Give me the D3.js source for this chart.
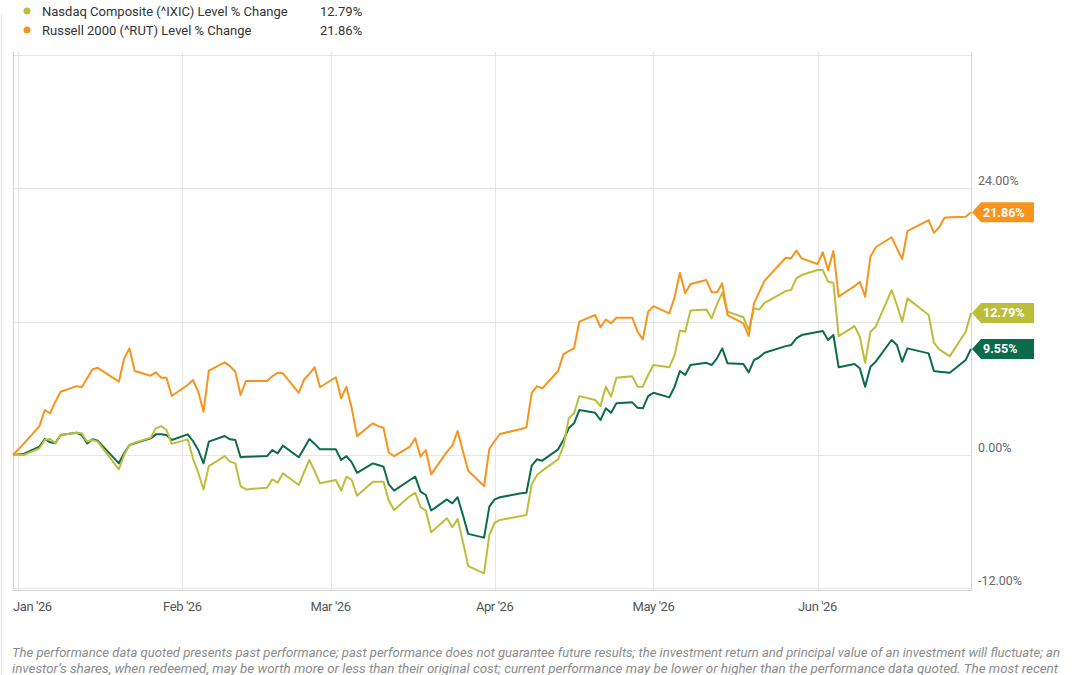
<!DOCTYPE html>
<html>
<head>
<meta charset="utf-8">
<script src="https://cdn.jsdelivr.net/npm/d3@7"></script>
<style>
  html, body { margin: 0; padding: 0; background: #fff; }
  svg { display: block; font-family: Roboto, "Noto Sans", sans-serif; }
</style>
</head>
<body>
<svg id="chart" width="1080" height="675"></svg>
<script>
// Trading days (Dec 31 2025 = base, 0%)
var dates = [
  "2025-12-31","2026-01-02","2026-01-05","2026-01-06","2026-01-07","2026-01-08","2026-01-09",
  "2026-01-12","2026-01-13","2026-01-14","2026-01-15","2026-01-16","2026-01-20","2026-01-21",
  "2026-01-22","2026-01-23","2026-01-26","2026-01-27","2026-01-28","2026-01-29","2026-01-30",
  "2026-02-02","2026-02-03","2026-02-04","2026-02-05","2026-02-06","2026-02-09","2026-02-10",
  "2026-02-11","2026-02-12","2026-02-13","2026-02-17","2026-02-18","2026-02-19","2026-02-20",
  "2026-02-23","2026-02-24","2026-02-25","2026-02-26","2026-02-27","2026-03-02","2026-03-03",
  "2026-03-04","2026-03-05","2026-03-06","2026-03-09","2026-03-10","2026-03-11","2026-03-12",
  "2026-03-13","2026-03-16","2026-03-17","2026-03-18","2026-03-19","2026-03-20","2026-03-23",
  "2026-03-24","2026-03-25","2026-03-26","2026-03-27","2026-03-30","2026-03-31","2026-04-01",
  "2026-04-02","2026-04-06","2026-04-07","2026-04-08","2026-04-09","2026-04-10","2026-04-13",
  "2026-04-14","2026-04-15","2026-04-16","2026-04-17","2026-04-20","2026-04-21","2026-04-22",
  "2026-04-23","2026-04-24","2026-04-27","2026-04-28","2026-04-29","2026-04-30","2026-05-01",
  "2026-05-04","2026-05-05","2026-05-06","2026-05-07","2026-05-08","2026-05-11","2026-05-12",
  "2026-05-13","2026-05-14","2026-05-15","2026-05-18","2026-05-19","2026-05-20","2026-05-21",
  "2026-05-22","2026-05-26","2026-05-27","2026-05-28","2026-05-29","2026-06-01","2026-06-02",
  "2026-06-03","2026-06-04","2026-06-05","2026-06-08","2026-06-09","2026-06-10","2026-06-11",
  "2026-06-12","2026-06-15","2026-06-16","2026-06-17","2026-06-18","2026-06-22","2026-06-23",
  "2026-06-24","2026-06-25","2026-06-26","2026-06-29","2026-06-30"
];

// Russell 2000 (^RUT) level % change
var rut = [
  0, 1.0, 2.6, 4.05, 3.75, 4.8, 5.7,
  6.2, 6.1, 6.9, 7.7, 7.85, 6.6, 8.7,
  9.6, 7.56, 7.14, 7.44, 6.96, 6.96, 5.31,
  6.3, 6.75, 5.7, 3.9, 7.59, 8.34, 8.0,
  7.5, 5.4, 6.66, 6.66, 7.1, 7.4, 7.35,
  5.6, 6.8, 7.3, 7.9, 6.1, 7.0, 5.1,
  6.15, 4.2, 1.7, 2.85, 2.6, 2.45, 0.2,
  -0.1, 0.75, 1.5, -0.15, 0.45, -1.74, 0.3,
  0.84, 2.16, 0.36, -1.41, -2.79, 0.54, 1.26,
  1.89, 2.34, 2.49, 5.6, 6.2, 6.0, 7.56,
  9.09, 9.36, 9.6, 12.0, 12.6, 11.5, 12.2,
  11.85, 12.36, 12.36, 11.1, 10.41, 12.9, 13.4,
  12.75, 14.2, 16.4, 14.55, 15.4, 15.75, 14.64,
  14.64, 15.45, 12.6, 11.85, 10.71, 13.65, 14.67,
  15.7, 17.76, 17.7, 18.4, 17.7, 17.2, 18.25,
  16.65, 18.36, 14.25, 15.2, 15.6, 14.25, 17.85,
  18.7, 19.6, 18.6, 17.64, 20.16, 21.15, 20.0,
  20.5, 21.36, 21.4, 21.45, 21.86
];

// Nasdaq Composite (^IXIC) level % change
var ixic = [
  0, 0.0, 0.6, 1.35, 1.44, 1.05, 1.8,
  2.0, 1.95, 1.2, 1.35, 1.2, -1.29, 0.0,
  0.9, 1.1, 1.56, 2.4, 2.6, 2.25, 1.0,
  1.41, -0.3, -1.6, -3.1, -1.0, -0.1, -0.6,
  -0.75, -2.8, -3.1, -2.94, -2.19, -2.5, -1.65,
  -2.7, -1.55, -0.45, -1.45, -2.55, -2.25, -3.2,
  -1.95, -2.25, -3.66, -2.4, -2.4, -2.4, -4.1,
  -4.95, -3.7, -3.4, -4.7, -5.0, -6.96, -5.7,
  -6.5, -5.76, -7.8, -10.0, -10.65, -7.2, -6.1,
  -5.85, -5.5, -5.4, -2.64, -1.8, -1.41, -0.39,
  0.81, 3.3, 3.75, 5.3, 4.95, 4.4, 6.15,
  5.25, 6.96, 7.1, 6.15, 6.15, 7.2, 8.1,
  7.9, 9.0, 11.2, 11.1, 13.0, 13.1, 12.3,
  13.56, 14.6, 12.9, 12.4, 11.25, 13.2, 13.1,
  13.7, 14.76, 14.85, 15.9, 16.2, 16.65, 16.65,
  15.6, 15.5, 10.7, 11.6, 10.65, 8.3, 11.1,
  11.55, 14.85, 13.5, 12.0, 14.1, 12.6, 10.1,
  9.5, 9.2, 8.9, 11.1, 12.79
];

// S&P 500 level % change (legend row cut off in the original)
var spx = [
  0, 0.1, 0.75, 1.44, 1.14, 1.05, 1.8,
  2.0, 1.8, 1.05, 1.41, 1.29, -0.75, 0.15,
  0.9, 1.05, 1.5, 1.86, 1.86, 1.8, 1.35,
  1.86, 1.26, 0.45, -0.75, 1.2, 1.71, 1.41,
  1.35, -0.2, -0.15, -0.1, 0.45, 0.15, 0.84,
  -0.2, 0.6, 1.44, 1.0, 0.51, 0.51, -0.45,
  -0.1, -0.66, -1.6, -0.75, -0.9, -1.05, -2.65,
  -3.2, -2.25, -1.95, -3.3, -3.6, -5.0, -4.0,
  -4.35, -3.8, -5.4, -7.1, -7.44, -4.65, -4.0,
  -3.8, -3.45, -3.4, -0.96, -0.39, -0.51, 0.51,
  1.35, 2.4, 2.85, 4.05, 3.8, 3.15, 4.2,
  3.8, 4.65, 4.74, 4.26, 4.2, 5.3, 5.6,
  5.19, 6.15, 7.56, 7.2, 8.1, 8.3, 8.1,
  8.7, 9.6, 8.25, 8.2, 7.44, 8.55, 8.8,
  9.2, 9.8, 9.9, 10.5, 10.8, 11.07, 11.16,
  10.35, 10.8, 7.9, 8.2, 7.8, 6.15, 7.95,
  8.4, 10.35, 9.9, 8.4, 9.6, 9.15, 7.56,
  7.5, 7.45, 7.4, 8.55, 9.55
];

var seriesNames = ["S&P 500 (^SPX) Level % Change", "Nasdaq Composite (^IXIC) Level % Change", "Russell 2000 (^RUT) Level % Change"];
var seriesColors = ["#0b6b4a", "#bcbe3b", "#f7941d"];
var yTicks = [-12, 0, 12, 24, 36];
var yTickLabels = [-12, 0, 24]; // 12% label hidden behind end tags
var monthTicks = ["2026-01-01", "2026-02-01", "2026-03-01", "2026-04-01", "2026-05-01", "2026-06-01"];

var parse = d3.timeParse("%Y-%m-%d");
var series = [spx, ixic, rut].map(function (vals, i) {
  return {
    name: seriesNames[i],
    color: seriesColors[i],
    values: vals.map(function (v, j) { return { date: parse(dates[j]), value: v }; })
  };
});

var svg = d3.select("#chart");

var plot = { left: 13, right: 971, top: 52, bottom: 590 };

var x = d3.scaleTime()
  .domain([parse(dates[0]), parse(dates[dates.length - 1])])
  .range([plot.left, plot.right]);

var y = d3.scaleLinear()
  .domain([-12, 24])
  .range([588.3, 188.4]);

// outer frame line on the left
svg.append("line")
  .attr("x1", 1.5).attr("x2", 1.5)
  .attr("y1", 14).attr("y2", 675)
  .attr("stroke", "#e3e3e3");

// horizontal gridlines
svg.append("g")
  .selectAll("line")
  .data(yTicks.filter(function (d) { return y(d) >= plot.top; }))
  .enter().append("line")
  .attr("x1", plot.left).attr("x2", plot.right)
  .attr("y1", function (d) { return Math.round(y(d)) + 0.5; })
  .attr("y2", function (d) { return Math.round(y(d)) + 0.5; })
  .attr("stroke", "#e6e6e6");

// vertical month gridlines
svg.append("g")
  .selectAll("line")
  .data(monthTicks)
  .enter().append("line")
  .attr("x1", function (d) { return Math.round(x(parse(d))) + 0.5; })
  .attr("x2", function (d) { return Math.round(x(parse(d))) + 0.5; })
  .attr("y1", plot.top).attr("y2", plot.bottom)
  .attr("stroke", "#e6e6e6");

// plot frame: left, right and bottom edges
svg.append("path")
  .attr("d", "M" + (plot.left + 0.5) + "," + plot.top + "V" + (plot.bottom + 0.5) +
             "H" + (plot.right + 0.5) + "V" + plot.top)
  .attr("fill", "none")
  .attr("stroke", "#d4d4d4");

// x axis labels
var monthFmt = d3.timeFormat("%b '%y");
svg.append("g")
  .selectAll("text")
  .data(monthTicks)
  .enter().append("text")
  .attr("x", function (d, i) { return i === 0 ? plot.left : x(parse(d)); })
  .attr("y", 611)
  .attr("text-anchor", function (d, i) { return i === 0 ? "start" : "middle"; })
  .style("font-size", "13px")
  .style("letter-spacing", "-0.4px")
  .style("fill", "#555")
  .text(function (d) { return monthFmt(parse(d)); });

// y axis labels (right side)
svg.append("g")
  .selectAll("text")
  .data(yTickLabels)
  .enter().append("text")
  .attr("x", 978)
  .attr("y", function (d) { return y(d) - 3; })
  .style("font-size", "12.5px")
  .style("fill", "#666")
  .text(function (d) { return d.toFixed(2) + "%"; });

// lines
var line = d3.line()
  .x(function (d) { return x(d.date); })
  .y(function (d) { return y(d.value); });

svg.append("g")
  .selectAll("path")
  .data(series)
  .enter().append("path")
  .attr("d", function (d) { return line(d.values); })
  .attr("fill", "none")
  .attr("stroke", function (d) { return d.color; })
  .attr("stroke-width", 2)
  .attr("stroke-linejoin", "round");

// end-of-line value tags
var tags = svg.append("g")
  .selectAll("g")
  .data(series)
  .enter().append("g")
  .attr("transform", function (d) {
    var last = d.values[d.values.length - 1];
    return "translate(" + plot.right + "," + y(last.value) + ")";
  });

tags.append("path")
  .attr("d", "M1,0L10,-10H63V10H10Z")
  .attr("fill", function (d) { return d.color; });

tags.append("text")
  .attr("x", 12)
  .attr("y", 4.5)
  .style("font-size", "12.5px")
  .style("font-weight", "bold")
  .style("fill", "#fff")
  .text(function (d) { return d.values[d.values.length - 1].value.toFixed(2) + "%"; });

// legend (top row is cut off in the original image)
var legend = svg.append("g")
  .selectAll("g")
  .data(series.slice(1))
  .enter().append("g")
  .attr("transform", function (d, i) { return "translate(0," + (11 + i * 19) + ")"; });

legend.append("circle")
  .attr("cx", 27).attr("cy", 0).attr("r", 3.5)
  .attr("fill", function (d) { return d.color; });

legend.append("text")
  .attr("x", 42).attr("y", 4.5)
  .style("font-size", "13px")
  .style("fill", "#333")
  .text(function (d) { return d.name; });

legend.append("text")
  .attr("x", 320).attr("y", 4.5)
  .style("font-size", "13px")
  .style("fill", "#333")
  .text(function (d) { return d.values[d.values.length - 1].value.toFixed(2) + "%"; });

// footnote
var notes = [
  "The performance data quoted presents past performance; past performance does not guarantee future results; the investment return and principal value of an investment will fluctuate; an",
  "investor\u2019s shares, when redeemed, may be worth more or less than their original cost; current performance may be lower or higher than the performance data quoted. The most recent"
];
svg.append("g")
  .selectAll("text")
  .data(notes)
  .enter().append("text")
  .attr("x", 12)
  .attr("y", function (d, i) { return 657 + i * 15.5; })
  .attr("textLength", function (d, i) { return i === 0 ? 1048 : 1046; })
  .attr("lengthAdjust", "spacingAndGlyphs")
  .style("font-size", "13px")
  .style("font-style", "italic")
  .style("fill", "#8a8a8a")
  .text(function (d) { return d; });
</script>
</body>
</html>
